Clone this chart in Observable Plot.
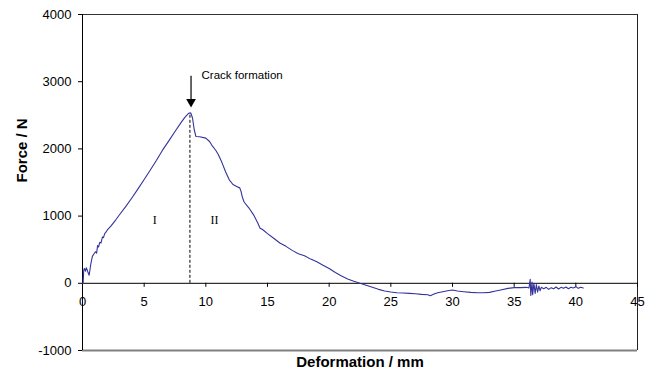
<!DOCTYPE html>
<html>
<head>
<meta charset="utf-8">
<script src="https://cdn.jsdelivr.net/npm/d3@7"></script>
<script src="https://cdn.jsdelivr.net/npm/@observablehq/plot@0.6"></script>
<style>
  html, body { margin: 0; padding: 0; background: #fff; }
  #chart svg { display: block; }
</style>
</head>
<body>
<div id="chart"></div>
<script>
// Deformation (mm) and force (N)
const deformation = [0, 0.05, 0.1, 0.15, 0.25, 0.3, 0.38, 0.45, 0.54, 0.68, 0.8, 0.95, 1.05, 1.15, 1.22, 1.3, 1.4, 1.5, 1.62, 1.7, 1.8, 1.9, 2.0, 2.3, 2.7, 3.0, 3.5, 4.0, 4.5, 5.0, 5.5, 6.0, 6.5, 7.0, 7.5, 8.0, 8.3, 8.6, 8.78, 8.92, 9.06, 9.19, 9.5, 10.0, 10.3, 10.54, 10.8, 11.0, 11.3, 11.6, 11.9, 12.2, 12.5, 12.75, 12.85, 12.95, 13.1, 13.5, 13.9, 14.2, 14.4, 14.6, 15.0, 15.5, 16.0, 16.5, 17.0, 17.5, 18.0, 18.5, 19.0, 19.5, 20.0, 20.5, 21.0, 21.5, 22.0, 22.5, 23.0, 23.5, 24.0, 24.5, 25.0, 25.5, 26.0, 26.5, 27.0, 27.5, 28.0, 28.2, 28.5, 28.8, 29.2, 29.6, 30.0, 30.4, 30.9, 31.5, 32.0, 32.5, 33.0, 33.5, 34.0, 34.5, 35.0, 35.5, 36.0, 36.2, 36.3, 36.35, 36.45, 36.5, 36.6, 36.7, 36.8, 36.9, 37.0, 37.1, 37.2, 37.4, 37.6, 37.8, 38.0, 38.2, 38.4, 38.6, 38.8, 39.0, 39.2, 39.4, 39.6, 39.8, 40.0, 40.2, 40.4, 40.6];
const force = [0, 0, 190, 220, 180, 230, 200, 160, 120, 294, 400, 443, 470, 450, 560, 540, 610, 600, 690, 680, 740, 760, 790, 850, 945, 1020, 1140, 1270, 1405, 1545, 1685, 1830, 1985, 2120, 2260, 2395, 2470, 2530, 2535, 2460, 2285, 2185, 2180, 2160, 2110, 2040, 1980, 1920, 1800, 1660, 1540, 1470, 1440, 1420, 1370, 1290, 1210, 1120, 1010, 900, 820, 800, 740, 670, 600, 550, 490, 440, 410, 360, 320, 270, 220, 160, 110, 65, 30, 0, -30, -60, -90, -115, -130, -140, -145, -150, -155, -165, -170, -185, -160, -140, -125, -110, -100, -115, -125, -135, -140, -140, -135, -115, -95, -75, -65, -65, -60, -70, 60, -180, 20, -170, 0, -150, -20, -130, -40, -110, -60, -80, -60, -90, -65, -80, -55, -85, -60, -75, -55, -80, -60, -70, -50, -75, -60, -70];

const xTicks = [0, 5, 10, 15, 20, 25, 30, 35, 40, 45];
const yTicks = [-1000, 0, 1000, 2000, 3000, 4000];

// Annotations
const crackX = 8.71;
const crackPeak = 2535;
const arrowX = 8.8;
const arrowTop = 3080;
const arrowTip = 2700;
const crackLabel = "Crack formation";
const crackLabelPos = [9.65, 3100];
const regionLabels = ["I", "II"];
const regionX = [5.85, 10.7];
const regionY = [940, 940];

const xTitle = "Deformation / mm";
const yTitle = "Force / N";

const curve = deformation.map((d, i) => ({x: d, y: force[i]}));
const regions = regionLabels.map((t, i) => ({t, x: regionX[i], y: regionY[i]}));

const chart = Plot.plot({
  width: 649,
  height: 374,
  marginLeft: 82,
  marginRight: 12,
  marginTop: 14,
  marginBottom: 24,
  style: {fontFamily: "'Liberation Sans', Arial, sans-serif", background: "#fff", color: "#000"},
  x: {domain: [0, 45], axis: null},
  y: {domain: [-1000, 4000]},
  marks: [
    // frame
    Plot.ruleY([4000], {stroke: "#333", strokeWidth: 1}),
    Plot.ruleY([-1000], {stroke: "#808080", strokeWidth: 2}),
    Plot.ruleX([45], {stroke: "#222", strokeWidth: 1}),
    Plot.ruleX([0], {stroke: "#000", strokeWidth: 1}),
    // y axis
    Plot.axisY(yTicks, {tickSize: 4, tickPadding: 7, tickFormat: d => String(d), fontSize: 13, label: null}),
    // x axis at zero
    Plot.ruleY([0], {stroke: "#000", strokeWidth: 1}),
    Plot.ruleX(xTicks, {x: d => d, y1: 0, y2: -60, stroke: "#000"}),
    Plot.text(xTicks, {x: d => d, y: 0, dy: 19, text: d => String(d), fontSize: 13, fill: "#000"}),
    // dashed crack line
    Plot.ruleX([crackX], {y1: 0, y2: crackPeak, stroke: "#000", strokeDasharray: "3,2", strokeWidth: 1}),
    // curve
    Plot.line(curve, {x: "x", y: "y", stroke: "#33339a", strokeWidth: 1.1, curve: "linear"}),
    // arrow
    Plot.ruleX([arrowX], {y1: arrowTop, y2: arrowTip, stroke: "#000", strokeWidth: 1.2}),
    Plot.dot([arrowX], {x: d => d, y: arrowTip, symbol: "triangle", rotate: 180, r: 3.6, fill: "#000", stroke: "none"}),
    Plot.text([crackLabel], {x: crackLabelPos[0], y: crackLabelPos[1], text: d => d, textAnchor: "start", fontSize: 11.5, fill: "#000"}),
    // region labels
    Plot.text(regions, {x: "x", y: "y", text: "t", fontFamily: "'Liberation Serif', 'Times New Roman', serif", fontSize: 12, fill: "#000"}),
    // axis titles
    Plot.text([xTitle], {frameAnchor: "bottom", dy: 16, text: d => d, fontSize: 15, fontWeight: "bold", fill: "#000"}),
    Plot.text([yTitle], {frameAnchor: "left", dx: -60, rotate: -90, text: d => d, fontSize: 15, fontWeight: "bold", fill: "#000"})
  ]
});
document.getElementById("chart").appendChild(chart);
</script>
</body>
</html>
